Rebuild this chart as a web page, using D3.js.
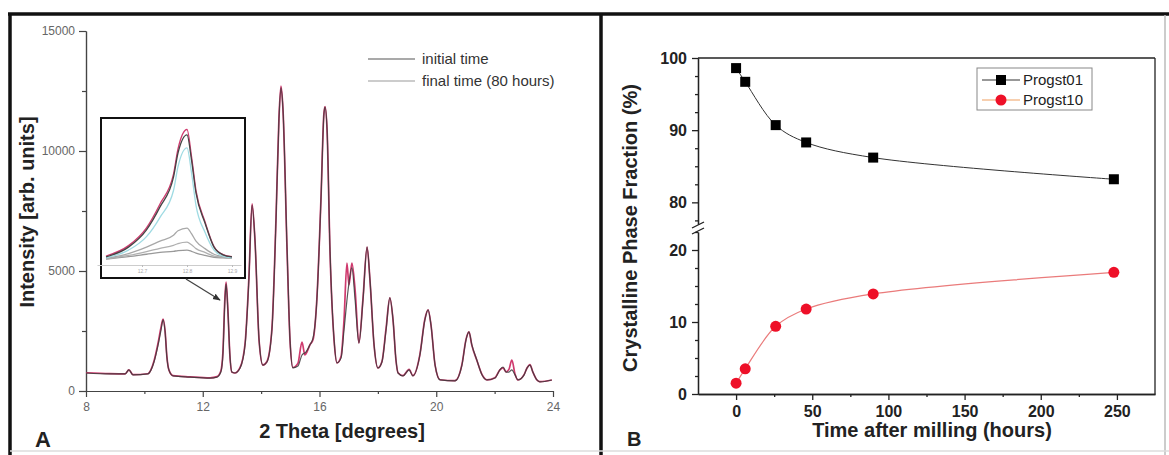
<!DOCTYPE html>
<html>
<head>
<meta charset="utf-8">
<script src="https://cdn.jsdelivr.net/npm/d3@7"></script>
<style>
body{margin:0;background:#fff;}
svg{display:block;font-family:Arial,"Liberation Sans",sans-serif;}
</style>
</head>
<body>
<div id="fig"></div>
<script>
// ---- panel A : powder pattern, [2theta, intensity]
const patternInitial = [[8.00,750],[8.82,710],[9.34,710],[9.47,880],[9.61,670],[10.12,710],[10.23,880],[10.33,1210],[10.47,1920],[10.57,2540],[10.64,2960],[10.71,2460],[10.77,1420],[10.84,880],[10.98,630],[11.56,580],[12.25,540],[12.49,580],[12.62,790],[12.69,1500],[12.76,3790],[12.80,4460],[12.86,3380],[12.93,1500],[13.00,790],[13.10,750],[13.28,960],[13.45,1920],[13.58,4630],[13.69,7750],[13.79,6290],[13.93,2130],[14.06,1080],[14.20,1210],[14.37,2540],[14.51,7130],[14.61,11290],[14.68,12630],[14.75,11710],[14.89,5880],[14.99,2130],[15.09,960],[15.26,1040],[15.40,1500],[15.54,1630],[15.67,1920],[15.78,2210],[15.91,3790],[16.05,7960],[16.15,11500],[16.19,11830],[16.26,10880],[16.36,5880],[16.50,2130],[16.60,1170],[16.74,1380],[16.84,2540],[16.98,4210],[17.11,5130],[17.22,3790],[17.35,2000],[17.49,3790],[17.63,6000],[17.73,4630],[17.87,1920],[18.00,960],[18.14,1210],[18.28,2540],[18.41,3880],[18.52,2960],[18.62,1290],[18.69,750],[18.86,630],[19.07,880],[19.20,630],[19.44,1500],[19.61,2960],[19.72,3380],[19.82,2750],[19.96,1080],[20.13,460],[20.64,420],[20.88,1080],[21.02,2130],[21.12,2460],[21.22,1920],[21.39,1290],[21.57,670],[21.74,460],[22.01,540],[22.18,880],[22.29,1000],[22.39,790],[22.49,790],[22.59,880],[22.70,670],[22.80,460],[23.01,670],[23.11,960],[23.21,1080],[23.31,790],[23.45,460],[23.55,380],[23.96,460]];
const patternFinal = [[8.00,760],[8.82,720],[9.34,710],[9.47,880],[9.61,680],[10.12,720],[10.23,900],[10.33,1250],[10.47,2000],[10.57,2650],[10.64,3000],[10.71,2500],[10.77,1450],[10.84,880],[10.98,640],[11.56,590],[12.25,550],[12.49,600],[12.62,830],[12.69,1600],[12.76,3900],[12.80,4540],[12.86,3400],[12.93,1480],[13.00,780],[13.10,750],[13.28,980],[13.45,1980],[13.58,4700],[13.69,7800],[13.79,6250],[13.93,2100],[14.06,1080],[14.20,1230],[14.37,2600],[14.51,7200],[14.61,11350],[14.68,12700],[14.75,11700],[14.89,5800],[14.99,2100],[15.09,980],[15.26,1150],[15.40,2040],[15.50,1500],[15.58,1650],[15.67,1920],[15.78,2150],[15.91,3850],[16.05,8000],[16.15,11550],[16.19,11850],[16.26,10850],[16.36,5800],[16.50,2100],[16.60,1170],[16.74,1450],[16.84,2960],[16.94,5330],[17.01,4420],[17.11,5330],[17.22,4210],[17.35,2000],[17.49,3850],[17.63,6000],[17.73,4600],[17.87,1900],[18.00,960],[18.14,1230],[18.28,2600],[18.41,3880],[18.52,2950],[18.62,1280],[18.69,760],[18.86,640],[19.07,900],[19.20,640],[19.44,1520],[19.61,2990],[19.72,3380],[19.82,2750],[19.96,1080],[20.13,470],[20.64,430],[20.88,1100],[21.02,2150],[21.12,2460],[21.22,1900],[21.39,1280],[21.57,680],[21.74,460],[22.01,550],[22.18,880],[22.29,960],[22.39,800],[22.49,900],[22.59,1290],[22.70,700],[22.80,460],[23.01,680],[23.11,960],[23.21,1100],[23.31,790],[23.45,460],[23.55,390],[23.96,460]];
const xTicksA = [8,12,16,20,24];
const yTicksA = [0,5000,10000,15000];
const legendA = ["initial time","final time (80 hours)"];

// inset : zoom on the 12.8 deg peak, several milling times
const insetTheta = [12.62,12.67,12.71,12.74,12.77,12.78,12.80,12.81,12.82,12.84,12.86,12.88,12.90];
const insetInit  = [670,1000,1580,2350,3350,4160,4770,3930,2820,1810,1000,740,670];
const insetFinal = [700,1050,1650,2450,3450,4300,4950,4050,2900,1850,1020,750,680];
const insetMid1  = [640,900,1350,2000,2900,3700,4330,3500,2400,1500,900,700,650];
const insetMid2  = [620,780,1000,1200,1400,1550,1640,1450,1200,950,760,680,650];
const insetMid3  = [600,720,850,960,1060,1120,1170,1080,950,820,700,660,640];
const insetMid4  = [600,680,760,820,860,880,900,860,800,720,660,640,630];
const insetTicks = [12.7,12.8,12.9];

// ---- panel B : crystalline fraction
const hours = [0,6,26,46,90,248];
const progst01 = [98.6,96.7,90.7,88.3,86.2,83.2];
const progst10 = [1.5,3.5,9.4,11.8,13.9,16.9];
const xTicksB = [0,50,100,150,200,250];
const yTicksUp = [80,90,100];
const yTicksLow = [0,10,20];
const seriesB = ["Progst01","Progst10"];

const svg = d3.select("#fig").append("svg").attr("width",1169).attr("height",455);

// outer frame
svg.append("line").attr("x1",8).attr("x2",1169).attr("y1",14).attr("y2",14).attr("stroke","#111").attr("stroke-width",3.5);
svg.append("line").attr("x1",10).attr("x2",10).attr("y1",13).attr("y2",455).attr("stroke","#111").attr("stroke-width",3.5);
svg.append("line").attr("x1",601).attr("x2",601).attr("y1",13).attr("y2",455).attr("stroke","#111").attr("stroke-width",3.5);
svg.append("line").attr("x1",1165).attr("x2",1165).attr("y1",15).attr("y2",455).attr("stroke","#bbb").attr("stroke-width",1.5);
svg.append("line").attr("x1",10).attr("x2",1169).attr("y1",451).attr("y2",451).attr("stroke","#ddd").attr("stroke-width",1.5);

// ================= panel A
const xA = d3.scaleLinear().domain([8,24]).range([86,553]);
const yA = d3.scaleLinear().domain([0,15000]).range([391,31]);
const gA = svg.append("g");

function styleAx(g,col){
  g.selectAll("path,line").attr("stroke",col).attr("stroke-width",1.2);
  g.selectAll("text").attr("fill","#666").attr("font-size",12);
}
let ax = gA.append("g").attr("transform","translate(0,391)")
  .call(d3.axisBottom(xA).tickValues(xTicksA).tickSize(6).tickSizeOuter(0).tickPadding(5));
styleAx(ax,"#444");
ax = gA.append("g").attr("transform","translate(0,391)")
  .call(d3.axisBottom(xA).tickValues([10,14,18,22]).tickSize(3).tickSizeOuter(0).tickFormat(""));
styleAx(ax,"#444");
ax = gA.append("g").attr("transform","translate(86,0)")
  .call(d3.axisLeft(yA).tickValues(yTicksA).tickSize(7).tickSizeOuter(0).tickPadding(4).tickFormat(d3.format("d")));
styleAx(ax,"#444");
ax = gA.append("g").attr("transform","translate(86,0)")
  .call(d3.axisLeft(yA).tickValues([2500,7500,12500]).tickSize(4).tickSizeOuter(0).tickFormat(""));
styleAx(ax,"#444");

const lineA = d3.line().x(d=>xA(d[0])).y(d=>yA(d[1])).curve(d3.curveMonotoneX);
gA.append("path").attr("d",lineA(patternFinal)).attr("fill","none").attr("stroke","#cf3a6e").attr("stroke-width",1.7);
gA.append("path").attr("d",lineA(patternInitial)).attr("fill","none").attr("stroke","#3a3a3a").attr("stroke-width",1.2).attr("opacity",0.85);

// legend A
legendA.forEach(function(t,i){
  const y = 59 + i*22;
  gA.append("line").attr("x1",368).attr("x2",415).attr("y1",y).attr("y2",y)
    .attr("stroke", i==0 ? "#555" : "#999").attr("stroke-width",1.2);
  gA.append("text").attr("x",422).attr("y",y+5).text(t).attr("font-size",15).attr("fill","#333");
});

// inset
const inset = gA.append("g");
inset.append("rect").attr("x",101).attr("y",118).attr("width",144).attr("height",160)
  .attr("fill","#fff").attr("stroke","#111").attr("stroke-width",2);
const xI = d3.scaleLinear().domain([12.6,12.92]).range([97,241]);
const yI = d3.scaleLinear().domain([500,5000]).range([262,128]);
const lineI = d3.line().x((d,i)=>xI(insetTheta[i])).y(d=>yI(d)).curve(d3.curveMonotoneX);
[[insetMid4,"#999"],[insetMid3,"#b0b0b0"],[insetMid2,"#a8a8a8"],[insetMid1,"#9fdbe3"],[insetFinal,"#cf3a6e"],[insetInit,"#444"]].forEach(function(s){
  inset.append("path").attr("d",lineI(s[0])).attr("fill","none").attr("stroke",s[1]).attr("stroke-width",1.3);
});
ax = inset.append("g").attr("transform","translate(0,265)")
  .call(d3.axisBottom(xI).tickValues(insetTicks).tickSize(2).tickSizeOuter(0).tickPadding(2).tickFormat(d3.format(".1f")));
ax.select(".domain").attr("stroke","#ccc");
ax.selectAll("line").attr("stroke","#bbb");
ax.selectAll("text").attr("font-size",5).attr("fill","#aaa");

// arrow
svg.append("defs").append("marker").attr("id","ah").attr("viewBox","0 0 10 10").attr("refX",9).attr("refY",5)
  .attr("markerWidth",6).attr("markerHeight",6).attr("orient","auto")
  .append("path").attr("d","M0,1L10,5L0,9z").attr("fill","#333");
gA.append("line").attr("x1",186).attr("y1",279).attr("x2",220).attr("y2",300)
  .attr("stroke","#444").attr("stroke-width",1.3).attr("marker-end","url(#ah)");

gA.append("text").attr("transform","translate(34,212) rotate(-90)").attr("text-anchor","middle")
  .attr("font-size",20).attr("font-weight","bold").attr("fill","#222").text("Intensity [arb. units]");
gA.append("text").attr("x",342).attr("y",438).attr("text-anchor","middle")
  .attr("font-size",20).attr("font-weight","bold").attr("fill","#222").text("2 Theta [degrees]");
gA.append("text").attr("x",35).attr("y",447).attr("font-size",22).attr("font-weight","bold").attr("fill","#222").text("A");

// ================= panel B
const xB = d3.scaleLinear().domain([-25,275]).range([698,1155]);
const yUp = d3.scaleLinear().domain([77,100]).range([224,58]);
const yLow = d3.scaleLinear().domain([0,22.5]).range([394,232]);
const gB = svg.append("g");

function styleB(g){
  g.selectAll("path,line").attr("stroke","#222").attr("stroke-width",1.3);
  g.selectAll("text").attr("fill","#222").attr("font-size",16).attr("font-weight","bold");
}
ax = gB.append("g").attr("transform","translate(0,394)")
  .call(d3.axisBottom(xB).tickValues(xTicksB).tickSize(6).tickSizeOuter(0).tickPadding(6));
styleB(ax);
ax = gB.append("g").attr("transform","translate(0,394)")
  .call(d3.axisBottom(xB).tickValues([25,75,125,175,225]).tickSize(3).tickSizeOuter(0).tickFormat(""));
styleB(ax);
ax = gB.append("g").attr("transform","translate(698,0)")
  .call(d3.axisLeft(yUp).tickValues(yTicksUp).tickSize(6).tickSizeOuter(0).tickPadding(5));
styleB(ax);
ax = gB.append("g").attr("transform","translate(698,0)")
  .call(d3.axisLeft(yUp).tickValues([77.5,82.5,85,87.5,92.5,95,97.5]).tickSize(3).tickSizeOuter(0).tickFormat(""));
styleB(ax);
ax = gB.append("g").attr("transform","translate(698,0)")
  .call(d3.axisLeft(yLow).tickValues(yTicksLow).tickSize(6).tickSizeOuter(0).tickPadding(5));
styleB(ax);
ax = gB.append("g").attr("transform","translate(698,0)")
  .call(d3.axisLeft(yLow).tickValues([2.5,5,7.5,12.5,15,17.5,22.5]).tickSize(3).tickSizeOuter(0).tickFormat(""));
styleB(ax);

// frame top/right
gB.append("line").attr("x1",698).attr("x2",1155).attr("y1",yUp(100)).attr("y2",yUp(100)).attr("stroke","#222").attr("stroke-width",1.3);
gB.append("line").attr("x1",1155).attr("x2",1155).attr("y1",yUp(100)).attr("y2",394).attr("stroke","#222").attr("stroke-width",1.3);

// axis break marks
[yUp(77)+1, yLow(22.5)-1].forEach(function(y){
  gB.append("line").attr("x1",692).attr("x2",704).attr("y1",y+3).attr("y2",y-3).attr("stroke","#222").attr("stroke-width",1.3);
});

const line01 = d3.line().x((d,i)=>xB(hours[i])).y(d=>yUp(d)).curve(d3.curveCatmullRom);
const line10 = d3.line().x((d,i)=>xB(hours[i])).y(d=>yLow(d)).curve(d3.curveCatmullRom);
gB.append("path").attr("d",line01(progst01)).attr("fill","none").attr("stroke","#333").attr("stroke-width",1);
gB.append("path").attr("d",line10(progst10)).attr("fill","none").attr("stroke","#ea7b7b").attr("stroke-width",1.2);
gB.selectAll(".sq").data(progst01).enter().append("rect")
  .attr("x",(d,i)=>xB(hours[i])-5).attr("y",d=>yUp(d)-5).attr("width",10).attr("height",10).attr("fill","#000");
gB.selectAll(".ci").data(progst10).enter().append("circle")
  .attr("cx",(d,i)=>xB(hours[i])).attr("cy",d=>yLow(d)).attr("r",5.5).attr("fill","#ee1028");

// legend B
gB.append("rect").attr("x",977).attr("y",68).attr("width",115).attr("height",42).attr("fill","#fff").attr("stroke","#888").attr("stroke-width",1);
seriesB.forEach(function(t,i){
  const y = 80 + i*20;
  gB.append("line").attr("x1",982).attr("x2",1020).attr("y1",y).attr("y2",y)
    .attr("stroke", i==0 ? "#333" : "#f0a060").attr("stroke-width",1.2);
  if(i==0) gB.append("rect").attr("x",996).attr("y",y-5).attr("width",10).attr("height",10).attr("fill","#000");
  else gB.append("circle").attr("cx",1001).attr("cy",y).attr("r",5.5).attr("fill","#ee1028");
  gB.append("text").attr("x",1023).attr("y",y+5).text(t).attr("font-size",15).attr("fill","#222");
});

gB.append("text").attr("transform","translate(637,228) rotate(-90)").attr("text-anchor","middle")
  .attr("font-size",20).attr("font-weight","bold").attr("fill","#222").text("Crystalline Phase Fraction (%)");
gB.append("text").attr("x",932).attr("y",437).attr("text-anchor","middle")
  .attr("font-size",20).attr("font-weight","bold").attr("fill","#222").text("Time after milling (hours)");
gB.append("text").attr("x",627).attr("y",446).attr("font-size",20).attr("font-weight","bold").attr("fill","#222").text("B");
</script>
</body>
</html>
